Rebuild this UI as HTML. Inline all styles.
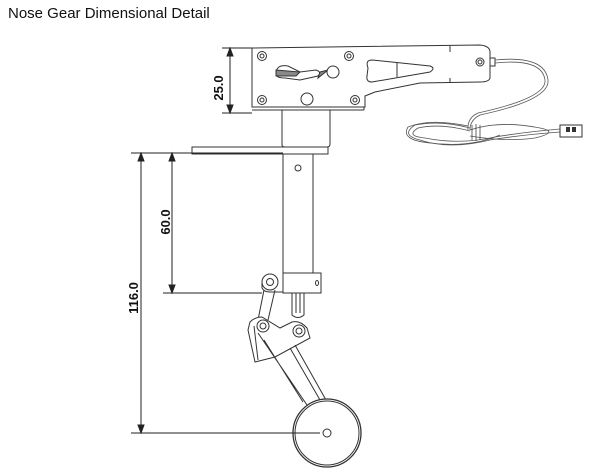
<!DOCTYPE html>
<html><head><style>
html,body{margin:0;padding:0;background:#fff;}
svg{display:block;}
</style></head><body>
<svg width="600" height="476" viewBox="0 0 600 476" xmlns="http://www.w3.org/2000/svg" font-family="Liberation Sans, Arial, sans-serif">
<text x="8" y="18" font-size="15" fill="#111">Nose Gear Dimensional Detail</text>
<g fill="none" stroke="#333" stroke-width="1">
<path d="M252,48 L480,45 Q490,46 490,52 L490,78 Q489,82 480,82 L420,83 L375,92 L365,96 L365,107 L252,107 Z" fill="#fff"/>
<line x1="252" y1="110" x2="364" y2="110"/>
<line x1="364" y1="107" x2="364" y2="110"/>
<line x1="450" y1="46" x2="450" y2="52"/><line x1="450" y1="78" x2="450" y2="83"/>
<circle cx="262" cy="56" r="4.5"/><circle cx="262" cy="56" r="2"/>
<circle cx="349" cy="56" r="4.5"/><circle cx="349" cy="56" r="2"/>
<circle cx="262" cy="100" r="4.5"/><circle cx="262" cy="100" r="2"/>
<circle cx="355" cy="100" r="4.5"/><circle cx="355" cy="100" r="2"/>
<circle cx="307" cy="99" r="6"/>
<circle cx="480" cy="62" r="4"/><circle cx="480" cy="62" r="2"/>
<path d="M368,68 Q365,60 372,60 L430,66 Q436,68 430,72 L372,82 Q366,82 367,76 Z"/>
<line x1="397" y1="63" x2="397" y2="77"/>
<path d="M276,74 Q276,64 288,66 L300,72 L316,70 Q322,72 318,76 L300,80 L285,78 Q276,78 276,74 Z"/>
<path d="M276,70 L300,72 L296,76 L276,76 Z" fill="#888"/>
<path d="M320,72 L328,70 L318,78 Z" fill="#888"/>
<circle cx="333" cy="72" r="6" fill="#fff"/>
<rect x="490" y="58" width="5" height="8"/>
<path d="M282,110 L282,145 Q282,147 285,147 L327,147 Q330,147 330,144 L330,110"/>
<rect x="192" y="147" width="136" height="7" fill="#fff"/>
<rect x="283" y="154" width="30" height="119" fill="#fff"/>
<circle cx="298" cy="168" r="3"/>
<rect x="283" y="273" width="38" height="20" fill="#fff"/>
<ellipse cx="317" cy="283" rx="1.5" ry="2.5"/>
<circle cx="270" cy="282" r="8" fill="#fff"/><circle cx="270" cy="282" r="3.5"/>
<path d="M262,282 L262,288 Q264,292 270,292 L283,292"/>
<path d="M292,293 L292,315 Q298,320 304,315 L304,293"/>
<path d="M296,293 L296,313 M300,293 L300,313"/>
<path d="M264,290 L258,320 M275,290 L268,320"/>
<path d="M250,322 Q255,317 262,317 L280,328 L292,322 Q300,320 307,328 L310,338 L275,357 L255,362 L248,330 Z" fill="#fff"/>
<path d="M254,326 L258,360"/>
<circle cx="263" cy="326" r="6"/><circle cx="263" cy="326" r="3"/>
<circle cx="299" cy="331" r="6"/><circle cx="299" cy="331" r="3"/>
<path d="M258,333 L307,405 M264,340 L303,402 M290,348 L320,400 M295,345 L326,400"/>
<circle cx="327" cy="433" r="34" fill="#fff" stroke-width="1.3"/>
<circle cx="327" cy="433" r="32"/>
<circle cx="327" cy="433" r="4"/>
</g>
<g fill="none" stroke="#555" stroke-width="0.8">
<path d="M495,60 Q545,55 548,80 Q550,100 480,115 Q470,120 470,130"/>
<path d="M495,63 Q542,58 545,80 Q547,98 478,113 Q467,118 468,130"/>
<path d="M470,128 Q440,120 415,125 Q400,135 420,140 Q450,150 490,140 Q520,135 560,132"/>
<path d="M470,131 Q440,123 418,128 Q405,136 425,138 Q460,145 495,137 Q525,132 560,129"/>
<path d="M468,126 Q430,118 408,127 Q400,140 430,143 Q470,148 500,135"/>
<path d="M470,130 Q500,120 540,128 Q560,132 535,138 Q505,142 470,136"/>
<path d="M472,125 L472,140 M476,124 L476,141 M480,125 L480,140" stroke="#444"/>
</g>
<rect x="560" y="125" width="22" height="12" fill="#fff" stroke="#333"/>
<rect x="566" y="127" width="4" height="5" fill="#333"/><rect x="572" y="127" width="4" height="5" fill="#333"/>
<g stroke="#222" stroke-width="1" fill="#222">
<line x1="222" y1="48" x2="252" y2="48"/>
<line x1="222" y1="113" x2="252" y2="113"/>
<line x1="230" y1="48" x2="230" y2="113"/>
<path d="M230,48 l-3,8 h6 z M230,113 l-3,-8 h6 z"/>
<line x1="131" y1="153" x2="283" y2="153"/>
<line x1="131" y1="433" x2="320" y2="433"/>
<line x1="141" y1="153" x2="141" y2="433"/>
<path d="M141,153 l-3,8 h6 z M141,433 l-3,-8 h6 z"/>
<line x1="163" y1="293" x2="262" y2="293"/>
<line x1="172" y1="153" x2="172" y2="293"/>
<path d="M172,153 l-3,8 h6 z M172,293 l-3,-8 h6 z"/>
</g>
<g font-size="13" fill="#111" text-anchor="middle" font-weight="bold">
<text transform="translate(223,88) rotate(-90)">25.0</text>
<text transform="translate(170,222) rotate(-90)">60.0</text>
<text transform="translate(138,298) rotate(-90)">116.0</text>
</g>
</svg>
</body></html>
